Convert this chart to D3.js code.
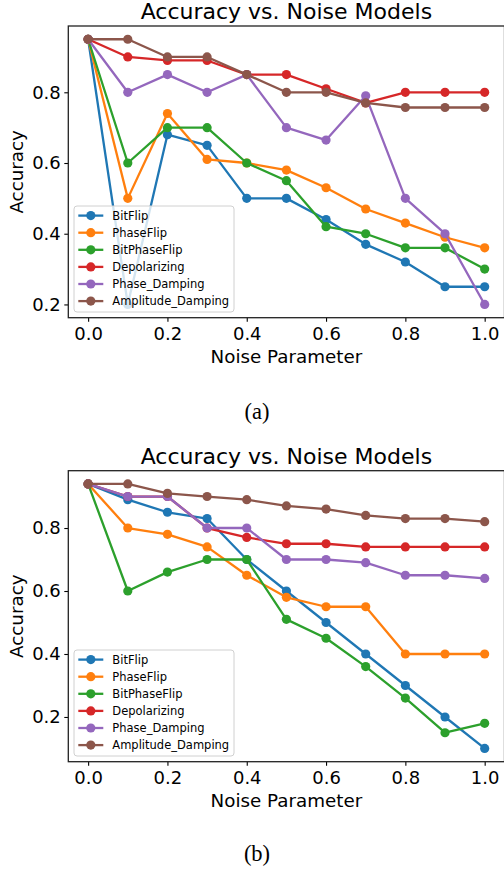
<!DOCTYPE html>
<html>
<head>
<meta charset="utf-8">
<script src="https://cdn.jsdelivr.net/npm/d3@7"></script>
<style>
  body { margin: 0; background: #fff; }
  text { font-family: "DejaVu Sans", sans-serif; fill: #000; }
  .caption { font-family: "Liberation Serif", "Times New Roman", serif; }
</style>
</head>
<body>
<div id="body"></div>
<script>
// noise parameter values (x axis)
var noiseParams = [0, 0.1, 0.2, 0.3, 0.4, 0.5, 0.6, 0.7, 0.8, 0.9, 1.0];
var seriesNames = ["BitFlip", "PhaseFlip", "BitPhaseFlip", "Depolarizing", "Phase_Damping", "Amplitude_Damping"];
var colors = ["#1f77b4", "#ff7f0e", "#2ca02c", "#d62728", "#9467bd", "#8c564b"];
var xTicks = [0, 0.2, 0.4, 0.6, 0.8, 1.0];
var yTicks = [0.2, 0.4, 0.6, 0.8];

// panel (a)
var bitFlipA       = [0.95, 0.20, 0.68, 0.65, 0.50, 0.50, 0.44, 0.37, 0.32, 0.25, 0.25];
var phaseFlipA     = [0.95, 0.50, 0.74, 0.61, 0.60, 0.58, 0.53, 0.47, 0.43, 0.39, 0.36];
var bitPhaseFlipA  = [0.95, 0.60, 0.70, 0.70, 0.60, 0.55, 0.42, 0.40, 0.36, 0.36, 0.30];
var depolarizingA  = [0.95, 0.90, 0.89, 0.89, 0.85, 0.85, 0.81, 0.77, 0.80, 0.80, 0.80];
var phaseDampingA  = [0.95, 0.80, 0.85, 0.80, 0.85, 0.70, 0.665, 0.79, 0.50, 0.40, 0.20];
var ampDampingA    = [0.95, 0.95, 0.90, 0.90, 0.85, 0.80, 0.80, 0.77, 0.757, 0.757, 0.757];

// panel (b)
var bitFlipB       = [0.94, 0.89, 0.85, 0.83, 0.70, 0.60, 0.50, 0.40, 0.30, 0.20, 0.10];
var phaseFlipB     = [0.94, 0.80, 0.78, 0.74, 0.65, 0.58, 0.55, 0.55, 0.40, 0.40, 0.40];
var bitPhaseFlipB  = [0.94, 0.60, 0.66, 0.70, 0.70, 0.51, 0.45, 0.36, 0.26, 0.15, 0.18];
var depolarizingB  = [0.94, 0.90, 0.90, 0.80, 0.77, 0.75, 0.75, 0.74, 0.74, 0.74, 0.74];
var phaseDampingB  = [0.94, 0.90, 0.90, 0.80, 0.80, 0.70, 0.70, 0.69, 0.65, 0.65, 0.64];
var ampDampingB    = [0.94, 0.94, 0.91, 0.90, 0.89, 0.87, 0.86, 0.84, 0.83, 0.83, 0.82];

var W = 504, H = 871;

var svg = d3.select("#body")
  .append("svg")
  .attr("width", W)
  .attr("height", H);

var panels = [
  { series: [bitFlipA, phaseFlipA, bitPhaseFlipA, depolarizingA, phaseDampingA, ampDampingA],
    top: 26, bottom: 317.7, caption: "(a)", captionY: 418.5 },
  { series: [bitFlipB, phaseFlipB, bitPhaseFlipB, depolarizingB, phaseDampingB, ampDampingB],
    top: 470.7, bottom: 761.7, caption: "(b)", captionY: 860.5 }
];

var left = 68.3, right = 504.5;

panels.forEach(function(p) {
  var all = d3.merge(p.series);
  var lo = d3.min(all), hi = d3.max(all), pad = (hi - lo) * 0.05;

  var x = d3.scaleLinear().domain([-0.05, 1.05]).range([left, right]);
  var y = d3.scaleLinear().domain([lo - pad, hi + pad]).range([p.bottom, p.top]);

  var g = svg.append("g");

  // series: line then markers, in order
  var line = d3.line()
    .x(function(d, i) { return x(noiseParams[i]); })
    .y(function(d) { return y(d); });

  p.series.forEach(function(vals, k) {
    g.append("path")
      .datum(vals)
      .attr("d", line)
      .attr("fill", "none")
      .attr("stroke", colors[k])
      .attr("stroke-width", 2.3)
      .attr("stroke-linejoin", "round");
    g.selectAll(null)
      .data(vals)
      .enter().append("circle")
      .attr("cx", function(d, i) { return x(noiseParams[i]); })
      .attr("cy", function(d) { return y(d); })
      .attr("r", 4.6)
      .attr("fill", colors[k]);
  });

  // axes
  var xAxis = g.append("g")
    .attr("transform", "translate(0," + p.bottom + ")")
    .call(d3.axisBottom(x).tickValues(xTicks).tickSize(4).tickSizeOuter(0).tickPadding(5.5)
      .tickFormat(d3.format(".1f")));
  var yAxis = g.append("g")
    .attr("transform", "translate(" + left + ",0)")
    .call(d3.axisLeft(y).tickValues(yTicks).tickSize(4).tickSizeOuter(0).tickPadding(3.5)
      .tickFormat(d3.format(".1f")));
  [xAxis, yAxis].forEach(function(a) {
    a.select(".domain").remove();
    a.selectAll("text").style("font-size", "18px").style("font-family", "DejaVu Sans");
    a.selectAll("line").attr("stroke", "#000").attr("stroke-width", 1.1);
  });

  g.append("rect")
    .attr("x", left).attr("y", p.top)
    .attr("width", right - left).attr("height", p.bottom - p.top)
    .attr("fill", "none").attr("stroke", "#222").attr("stroke-width", 1.3);

  // legend
  var legW = 160, rowH = 17.1;
  var legBottom = p.bottom - 5.7;
  var legTop = legBottom - 106;
  var leg = g.append("g");
  leg.append("rect")
    .attr("x", left + 5.7).attr("y", legTop)
    .attr("width", legW).attr("height", legBottom - legTop)
    .attr("rx", 3)
    .attr("fill", "#fff").attr("fill-opacity", 0.8)
    .attr("stroke", "#d0d0d0").attr("stroke-width", 1);
  seriesNames.forEach(function(name, k) {
    var cy = legTop + 9.6 + k * rowH;
    leg.append("line")
      .attr("x1", 78.3).attr("x2", 103.3)
      .attr("y1", cy).attr("y2", cy)
      .attr("stroke", colors[k]).attr("stroke-width", 2.3);
    leg.append("circle")
      .attr("cx", 90.8).attr("cy", cy).attr("r", 4.6)
      .attr("fill", colors[k]);
    leg.append("text")
      .attr("x", 112.3).attr("y", cy + 4.2)
      .style("font-size", "11.5px")
      .text(name);
  });

  // titles and labels
  g.append("text")
    .attr("x", (left + right) / 2).attr("y", p.top - 6.8)
    .attr("text-anchor", "middle")
    .style("font-size", "22px")
    .text("Accuracy vs. Noise Models");

  g.append("text")
    .attr("x", (left + right) / 2).attr("y", p.bottom + 45.5)
    .attr("text-anchor", "middle")
    .style("font-size", "18.3px")
    .text("Noise Parameter");

  g.append("text")
    .attr("transform", "translate(23," + ((p.top + p.bottom) / 2) + ") rotate(-90)")
    .attr("text-anchor", "middle")
    .style("font-size", "18.3px")
    .text("Accuracy");

  svg.append("text")
    .attr("class", "caption")
    .attr("x", 257).attr("y", p.captionY)
    .attr("text-anchor", "middle")
    .style("font-size", "22.5px")
    .text(p.caption);
});
</script>
</body>
</html>
